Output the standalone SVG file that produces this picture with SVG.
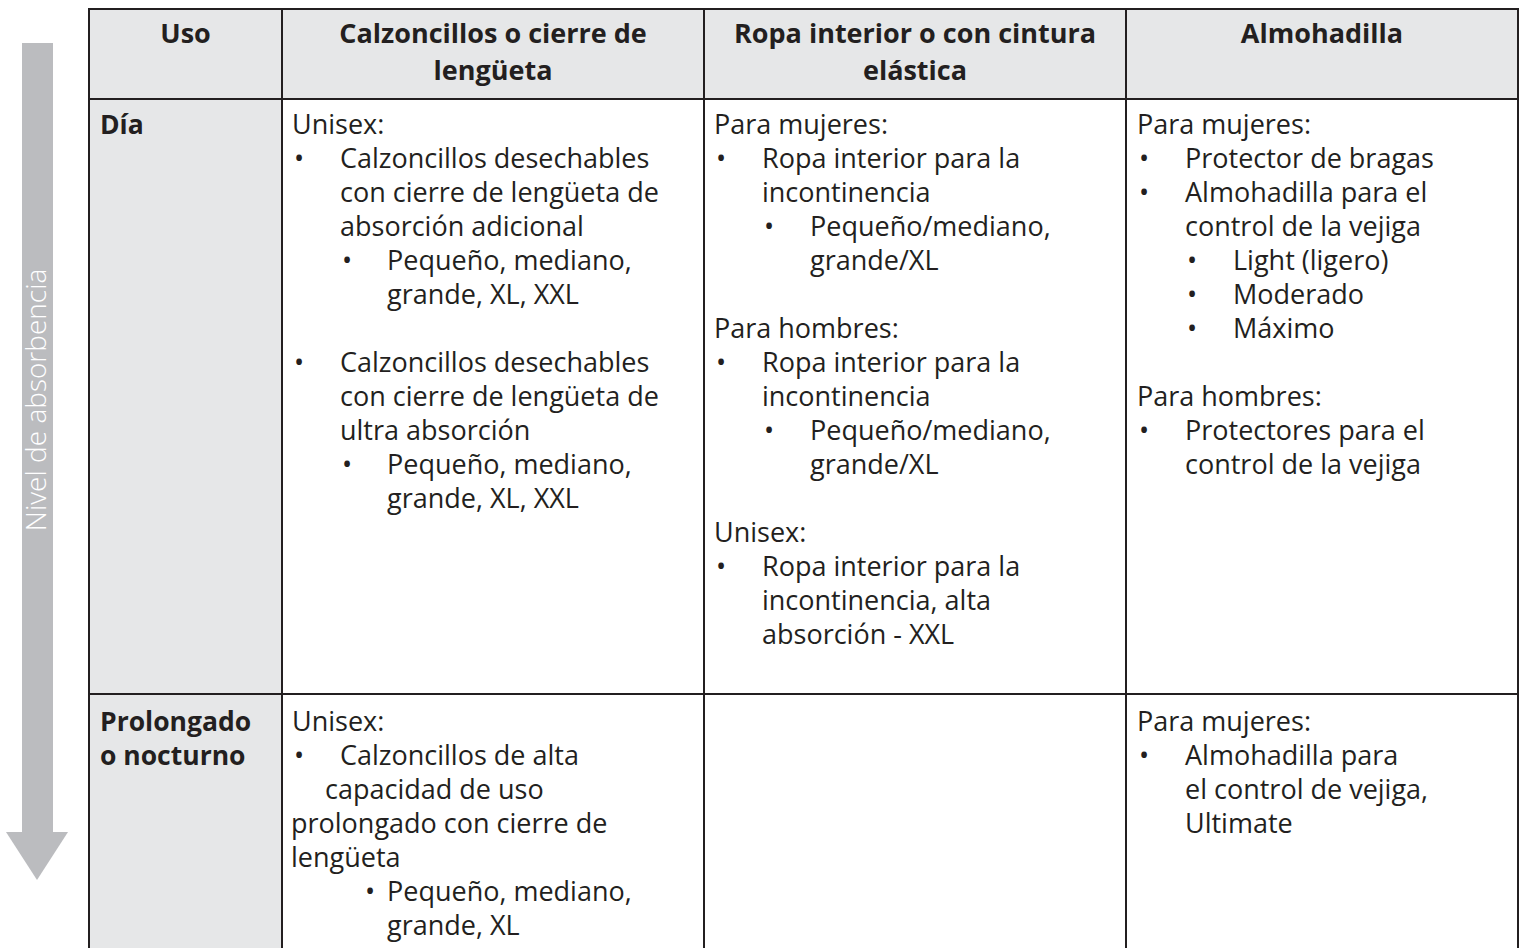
<svg xmlns="http://www.w3.org/2000/svg" width="1520" height="948" viewBox="0 0 1520 948">
<style>
.b{font-family:"Open Sans","Liberation Sans",sans-serif;font-size:27px;font-weight:400;fill:#231f20;}
.h{font-family:"Open Sans","Liberation Sans",sans-serif;font-size:27px;font-weight:700;fill:#231f20;}
.r{font-family:"Open Sans","Liberation Sans",sans-serif;font-size:26.5px;font-weight:700;fill:#231f20;}
.hc{text-anchor:middle;}
.ln{stroke:#231f20;stroke-width:2;fill:none;}
.ax{font-family:"Open Sans","Liberation Sans",sans-serif;font-size:28px;font-weight:300;fill:#ffffff;}
</style>
<rect width="1520" height="948" fill="#ffffff"/>
<g id="arrow">
<rect x="22" y="43" width="31" height="790" fill="#bbbcbf"/>
<polygon points="6,832 68,832 37,880" fill="#bbbcbf"/>
<text class="ax" text-anchor="middle" transform="translate(46,400) rotate(-90)">Nivel de absorbencia</text>
</g>
<g id="table-bg">
<rect x="89" y="9" width="1429" height="90" fill="#e6e7e8"/>
<rect x="89" y="99" width="193" height="849" fill="#e6e7e8"/>
</g>
<g id="connectors">
<line class="ln" x1="89" y1="9" x2="1518" y2="9" stroke-width="3"/>
<line class="ln" x1="89" y1="99" x2="1518" y2="99"/>
<line class="ln" x1="89" y1="694" x2="1518" y2="694"/>
<line class="ln" x1="89" y1="8" x2="89" y2="948" stroke-width="2.5"/>
<line class="ln" x1="282" y1="9" x2="282" y2="948"/>
<line class="ln" x1="704" y1="9" x2="704" y2="948"/>
<line class="ln" x1="1126" y1="9" x2="1126" y2="948"/>
<line class="ln" x1="1518" y1="8" x2="1518" y2="948" stroke-width="2.5"/>
</g>
<g id="header">
<text class="h hc" x="185.5" y="43">Uso</text>
<text class="h hc" x="493" y="43">Calzoncillos o cierre de</text>
<text class="h hc" x="493" y="80">lengüeta</text>
<text class="h hc" x="915" y="43">Ropa interior o con cintura</text>
<text class="h hc" x="915" y="80">elástica</text>
<text class="h hc" x="1322" y="43">Almohadilla</text>
</g>
<g id="row-dia-label">
<text class="r" x="100" y="134">Día</text>
</g>
<g id="cell-dia-calzoncillos">
<text class="b" x="292" y="134">Unisex:</text>
<text class="b" x="294" y="168">•</text>
<text class="b" x="340" y="168">Calzoncillos desechables</text>
<text class="b" x="340" y="202">con cierre de lengüeta de</text>
<text class="b" x="340" y="236">absorción adicional</text>
<text class="b" x="342" y="270">•</text>
<text class="b" x="387" y="270">Pequeño, mediano,</text>
<text class="b" x="387" y="304">grande, XL, XXL</text>
<text class="b" x="294" y="372">•</text>
<text class="b" x="340" y="372">Calzoncillos desechables</text>
<text class="b" x="340" y="406">con cierre de lengüeta de</text>
<text class="b" x="340" y="440">ultra absorción</text>
<text class="b" x="342" y="474">•</text>
<text class="b" x="387" y="474">Pequeño, mediano,</text>
<text class="b" x="387" y="508">grande, XL, XXL</text>
</g>
<g id="cell-dia-ropa">
<text class="b" x="714" y="134">Para mujeres:</text>
<text class="b" x="716" y="168">•</text>
<text class="b" x="762" y="168">Ropa interior para la</text>
<text class="b" x="762" y="202">incontinencia</text>
<text class="b" x="764" y="236">•</text>
<text class="b" x="810" y="236">Pequeño/mediano,</text>
<text class="b" x="810" y="270">grande/XL</text>
<text class="b" x="714" y="338">Para hombres:</text>
<text class="b" x="716" y="372">•</text>
<text class="b" x="762" y="372">Ropa interior para la</text>
<text class="b" x="762" y="406">incontinencia</text>
<text class="b" x="764" y="440">•</text>
<text class="b" x="810" y="440">Pequeño/mediano,</text>
<text class="b" x="810" y="474">grande/XL</text>
<text class="b" x="714" y="542">Unisex:</text>
<text class="b" x="716" y="576">•</text>
<text class="b" x="762" y="576">Ropa interior para la</text>
<text class="b" x="762" y="610">incontinencia, alta</text>
<text class="b" x="762" y="644">absorción - XXL</text>
</g>
<g id="cell-dia-almohadilla">
<text class="b" x="1137" y="134">Para mujeres:</text>
<text class="b" x="1139" y="168">•</text>
<text class="b" x="1185" y="168">Protector de bragas</text>
<text class="b" x="1139" y="202">•</text>
<text class="b" x="1185" y="202">Almohadilla para el</text>
<text class="b" x="1185" y="236">control de la vejiga</text>
<text class="b" x="1187" y="270">•</text>
<text class="b" x="1233" y="270">Light (ligero)</text>
<text class="b" x="1187" y="304">•</text>
<text class="b" x="1233" y="304">Moderado</text>
<text class="b" x="1187" y="338">•</text>
<text class="b" x="1233" y="338">Máximo</text>
<text class="b" x="1137" y="406">Para hombres:</text>
<text class="b" x="1139" y="440">•</text>
<text class="b" x="1185" y="440">Protectores para el</text>
<text class="b" x="1185" y="474">control de la vejiga</text>
</g>
<g id="row-prolongado-label">
<text class="r" x="100" y="731">Prolongado</text>
<text class="r" x="100" y="765">o nocturno</text>
</g>
<g id="cell-prolongado-calzoncillos">
<text class="b" x="292" y="731">Unisex:</text>
<text class="b" x="294" y="765">•</text>
<text class="b" x="340" y="765">Calzoncillos de alta</text>
<text class="b" x="325" y="799">capacidad de uso</text>
<text class="b" x="291" y="833">prolongado con cierre de</text>
<text class="b" x="291" y="867">lengüeta</text>
<text class="b" x="365" y="901">•</text>
<text class="b" x="387" y="901">Pequeño, mediano,</text>
<text class="b" x="387" y="935">grande, XL</text>
</g>
<g id="cell-prolongado-almohadilla">
<text class="b" x="1137" y="731">Para mujeres:</text>
<text class="b" x="1139" y="765">•</text>
<text class="b" x="1185" y="765">Almohadilla para</text>
<text class="b" x="1185" y="799">el control de vejiga,</text>
<text class="b" x="1185" y="833">Ultimate</text>
</g>
</svg>
